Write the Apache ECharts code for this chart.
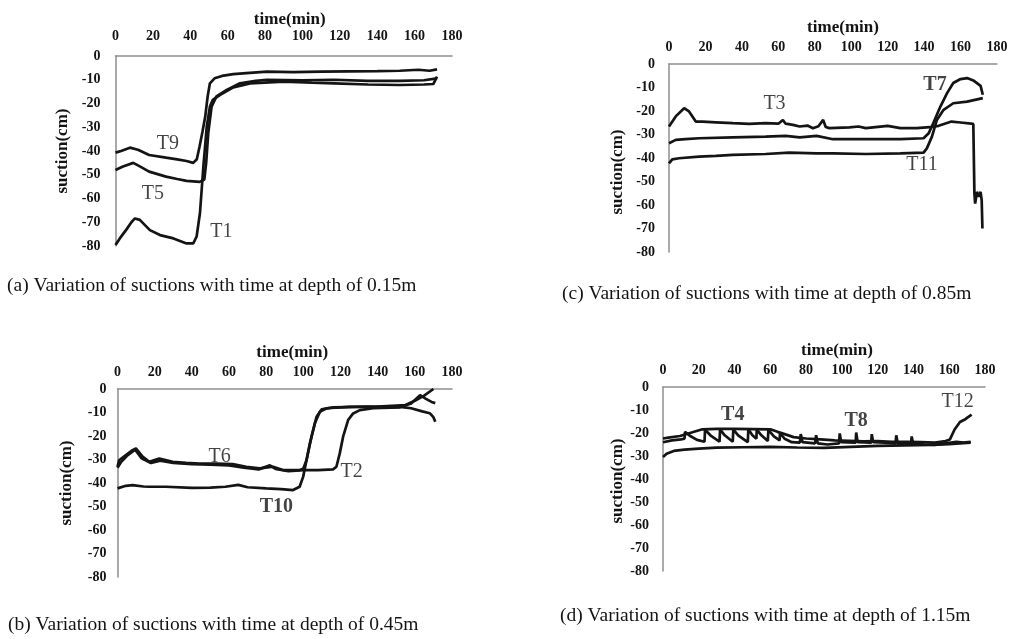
<!DOCTYPE html>
<html>
<head>
<meta charset="utf-8">
<script src="https://cdn.jsdelivr.net/npm/echarts@6/dist/echarts.min.js"></script>
<style>
html,body{margin:0;padding:0;background:#fff;}
#chart{width:1013px;height:639px;}
</style>
</head>
<body>
<div id="chart"></div>
<script>
// ---------- tick labels ----------
const xTicks = [0, 20, 40, 60, 80, 100, 120, 140, 160, 180];
const yTicks = [0, -10, -20, -30, -40, -50, -60, -70, -80];

// ---------- panel (a) depth 0.15 m ----------
const a_T9 = [[0,-40.7],[3,-40],[7.7,-38.6],[12,-39.5],[18,-41.7],[27,-42.8],[33,-43.5],[38,-44.2],[41.6,-45],[43.5,-43.5],[45,-38],[46.5,-32],[48,-25.5],[49.3,-17],[50.5,-11.5],[53,-9.4],[57,-8.4],[63,-7.6],[70,-7.2],[81,-6.6],[95,-6.8],[110,-6.6],[125,-6.5],[140,-6.4],[152,-6.2],[162,-5.8],[168,-6.2],[172,-5.6]];
const a_T5 = [[0,-48],[4,-46.5],[9.5,-45],[13,-46.5],[18,-48.7],[27,-50.8],[33,-51.8],[38,-52.6],[45,-53],[47.5,-52],[48.5,-45],[49.6,-32.6],[51.4,-21.3],[54,-17],[59.5,-14.3],[66.6,-11.5],[75,-10.5],[81,-10],[100,-10.2],[117,-10],[135,-10.5],[152,-10.5],[165,-10.2],[172,-9.4]];
const a_T1 = [[0,-79.6],[2.3,-76.8],[5.9,-73],[8.5,-70],[10.4,-68.4],[13,-69],[18.4,-73.3],[23.8,-75.4],[31,-76.8],[38,-78.9],[41.6,-78.9],[43.4,-76],[45.2,-66],[47,-46.6],[48.8,-29.8],[50.5,-21.3],[52,-18.5],[56,-16.4],[63,-13.2],[72,-11.5],[90,-10.8],[105,-11.2],[117,-11.5],[135,-12],[152,-12.2],[165,-12],[170,-11.8],[172,-8.7]];
const a_labels = [["T9",28,-37,"normal"],["T5",20,-57.8,"normal"],["T1",56.6,-74,"normal"]];

// ---------- panel (b) depth 0.45 m ----------
const b_T6 = [[0,-33.1],[0.9,-30.3],[4.5,-28.1],[8.1,-26],[9.9,-25.3],[13.5,-28.8],[17.1,-31],[22.5,-29.6],[29.7,-31],[36.9,-31.4],[44.1,-31.7],[53,-31.7],[62,-32],[69.3,-33.1],[76.5,-33.8],[83.7,-33.1],[89,-34.5],[98,-34.5],[99.9,-34],[101.7,-30.3],[103.5,-23.2],[106.2,-14.6],[108.9,-9.7],[112.5,-8.2],[125,-7.6],[140,-7.5],[155,-6.8],[160,-5],[165,-2.8],[170,0]];
const b_T2 = [[0,-33.5],[2,-31],[5,-28.5],[9.5,-25.8],[13,-29.5],[18,-31.5],[23,-30.5],[30,-31.5],[40,-32],[50,-32.2],[60,-32.5],[68,-33.5],[76,-34.2],[82,-32.5],[85,-34],[92,-35],[100,-34.5],[108,-34.5],[116,-34.2],[117.8,-33.1],[119.6,-27.4],[121.4,-20.3],[124.1,-13.2],[126.8,-10.4],[130.4,-9],[137.6,-8.2],[152,-7.8],[158,-6.2],[162.8,-2.6],[166,-4.2],[169,-5.5],[171,-6]];
const b_T10 = [[0,-42.3],[4.5,-41.2],[8.1,-40.9],[14,-41.5],[17.1,-41.6],[26,-41.6],[40,-42.1],[50,-42],[58,-41.6],[65,-40.8],[70,-41.8],[80,-42.3],[88,-42.6],[94.5,-43],[98,-41.6],[99.9,-37.4],[101.7,-30.3],[104.4,-20.3],[107.1,-11.8],[109.8,-8.7],[116,-7.8],[134,-7.5],[152,-7.6],[158,-8.2],[164,-9.5],[168,-10.3],[170,-12],[171,-13.9]];
const b_labels = [["T6",54.9,-28.8,"normal"],["T2",126,-35.2,"normal"],["T10",85.5,-50.2,"bold"]];

// ---------- panel (c) depth 0.85 m ----------
const c_T3 = [[0,-26.6],[3.7,-22.3],[8.3,-18.8],[11,-20.2],[14.7,-24.5],[18.4,-24.5],[25.7,-24.8],[35,-25.2],[44,-25.5],[53,-25.2],[60,-25.4],[62.5,-23.8],[64,-25.4],[68,-25.9],[71.7,-26.6],[76,-26.2],[79,-27.3],[82,-26.5],[84.6,-23.8],[86,-26.8],[88,-27.3],[99,-27],[104,-26.6],[108,-27.3],[120,-26.3],[127,-27.3],[136,-27.3],[143,-26.9],[148,-26.3],[155,-24.5],[160,-24.9],[167,-25.5],[167.6,-55],[168,-59.4],[169,-54.4],[170,-56.5],[171,-54.4],[171.6,-58],[172,-70]];
const c_T7 = [[0,-33.7],[3.7,-32.3],[9,-32],[16.5,-31.6],[35,-31.2],[53,-30.9],[64,-30.6],[71.7,-31.2],[81,-30.6],[90,-32],[108,-32],[127,-32],[139.7,-31.6],[142.5,-29.5],[145,-25.2],[149,-18],[152.6,-12.4],[156,-8.1],[160,-6.4],[163.6,-6],[167,-7],[171,-9.3],[172.2,-13.1]];
const c_T11 = [[0,-42.3],[1.8,-40.6],[5.5,-40.1],[16.5,-39.4],[25.7,-39.1],[35,-38.7],[53,-38.3],[66,-37.7],[81,-38],[90,-38],[108,-38.3],[127,-38],[139.7,-37.7],[141.5,-35.9],[144.3,-30.9],[147,-23.8],[150.7,-19.5],[156,-16.7],[163.6,-16],[172.2,-14.5]];
const c_labels = [["T3",57.9,-16.9,"normal"],["T7",146,-8.8,"bold"],["T11",138.8,-43,"normal"]];

// ---------- panel (d) depth 1.15 m ----------
const d_T4 = [[0,-24],[5,-23.2],[10,-22.8],[12,-22.5],[12.3,-19.5],[15,-21.2],[19,-23],[23.2,-23.8],[23.5,-18.6],[26.5,-21],[31.6,-23.8],[31.9,-18.4],[34.5,-21],[39,-23.8],[39.3,-18.4],[42,-21],[47.4,-24],[47.7,-18.4],[50,-21],[52.2,-22.5],[52.4,-18.5],[55,-21],[58.6,-23.5],[58.9,-18.6],[62,-21.5],[65.2,-23.2],[65.4,-20],[68,-22.5],[72,-24],[76.5,-24.2],[77,-20.5],[78,-24],[85,-24.5],[85.6,-21],[86.5,-24.5],[92,-25],[98.4,-24.5],[98.8,-20.2],[99.6,-24],[107.7,-24.2],[108,-19.8],[108.8,-24],[116.4,-24.2],[116.7,-20.5],[117.5,-24],[124,-24.2],[130,-24.5],[130.4,-21],[131.2,-24.5],[138.7,-24.5],[139,-21.5],[139.8,-24.5],[146,-25],[152,-25.2],[158,-24.5],[164,-23.8],[168,-24.2],[172,-23.8]];
const d_T8 = [[0,-30.4],[2,-29],[6,-27.8],[12,-27.2],[20,-26.8],[30,-26.4],[45,-26.2],[60,-26],[75,-26.3],[90,-26.5],[105,-26],[120,-25.6],[135,-25.4],[150,-25.2],[160,-24.8],[172,-24.2]];
const d_T12 = [[0,-22.4],[3,-22],[9.5,-21.3],[16,-19.8],[22,-18.4],[30,-18.2],[40,-18.2],[50,-18.3],[60,-18.4],[64,-19.5],[68,-20.5],[73,-21.8],[80,-22.4],[88,-22.8],[96,-23.2],[104,-23.4],[112,-23.6],[120,-23.5],[128,-23.8],[136,-23.8],[144,-24],[152,-24.2],[158,-23.5],[160.4,-22.8],[163,-18.5],[166,-15.2],[169,-14],[172.5,-12]];
const d_labels = [["T4",39,-12.3,"bold"],["T8",108,-14.5,"bold"],["T12",164.7,-6.5,"normal"]];

// ---------- captions ----------
const captions = [
  "(a) Variation of suctions with time at depth of 0.15m",
  "(b) Variation of suctions with time at depth of 0.45m",
  "(c) Variation of suctions with time at depth of 0.85m",
  "(d) Variation of suctions with time at depth of 1.15m"
];
const xName = "time(min)";
const yName = "suction(cm)";

// ---------- layout & style ----------
const SERIF = "'Liberation Serif','Times New Roman',serif";
const INK = '#141414';
const AXIS = '#8e8e8e';

const grids = [
  {left:115.5, top:56,  width:336.5, height:190},   // a
  {left:117.5, top:389, width:334.5, height:188},   // b
  {left:669,   top:64,  width:328,   height:188},   // c
  {left:663,   top:387, width:322,   height:184}    // d
];
const xLabelMargin = [13, 10, 10, 10];
const yLabelMargin = [15, 11, 14, 14];
const xNamePad = [[0,0,0,12],[0,0,0,15],[0,0,0,20],[0,0,0,26]];
const yNameGap = [44, 42, 43, 33];
const yNamePad = [[0,0,0,0],[0,0,0,0],[0,28,0,0],[0,4,0,0]];
const captionPos = [[7,287],[8,626],[562,295],[560,617]];

const panels = [
  {lines:[a_T9,a_T5,a_T1], labels:a_labels},
  {lines:[b_T6,b_T2,b_T10], labels:b_labels},
  {lines:[c_T3,c_T7,c_T11], labels:c_labels},
  {lines:[d_T4,d_T8,d_T12], labels:d_labels}
];

const xAxes = grids.map((g,i)=>({
  gridIndex:i, type:'value', position:'top', min:xTicks[0], max:xTicks[xTicks.length-1], interval:20,
  name:xName, nameLocation:'middle', nameGap:28,
  nameTextStyle:{fontFamily:SERIF, fontWeight:'bold', fontSize:17, color:INK, padding:xNamePad[i]},
  axisLine:{show:true, lineStyle:{color:AXIS, width:1.5}},
  axisTick:{show:false}, splitLine:{show:false},
  axisLabel:{fontFamily:SERIF, fontWeight:'bold', fontSize:14, color:INK, margin:xLabelMargin[i]}
}));
const yAxes = grids.map((g,i)=>({
  gridIndex:i, type:'value', min:yTicks[yTicks.length-1], max:yTicks[0], interval:10,
  name:yName, nameLocation:'middle', nameGap:yNameGap[i], nameRotate:90,
  nameTextStyle:{fontFamily:SERIF, fontWeight:'bold', fontSize:17, color:INK, padding:yNamePad[i]},
  axisLine:{show:true, onZero:false, lineStyle:{color:AXIS, width:1.5}},
  axisTick:{show:false}, splitLine:{show:false},
  axisLabel:{fontFamily:SERIF, fontWeight:'bold', fontSize:14, color:INK, margin:yLabelMargin[i]}
}));

const series = [];
panels.forEach((p,i)=>{
  p.lines.forEach(d=>{
    series.push({type:'line', xAxisIndex:i, yAxisIndex:i, data:d, showSymbol:false, symbol:'none',
      smooth:false, lineStyle:{color:INK, width:2.7}, z:3});
  });
  series.push({type:'scatter', xAxisIndex:i, yAxisIndex:i, symbolSize:1,
    itemStyle:{color:'rgba(0,0,0,0)'},
    data:p.labels.map(l=>({name:l[0], value:[l[1],l[2]],
      label:{show:true, position:'inside', formatter:l[0], fontFamily:SERIF, fontSize:20, fontWeight:l[3], color:INK}})),
    z:4});
});

const graphic = captions.map((t,i)=>({
  type:'text', left:captionPos[i][0], top:captionPos[i][1]-11,
  style:{text:t, fontFamily:SERIF, fontSize:19.5, fill:INK}
}));

const chart = echarts.init(document.getElementById('chart'), null, {renderer:'canvas'});
chart.setOption({
  animation:false,
  backgroundColor:'#ffffff',
  grid:grids,
  xAxis:xAxes,
  yAxis:yAxes,
  series:series,
  graphic:graphic
});
</script>
</body>
</html>
